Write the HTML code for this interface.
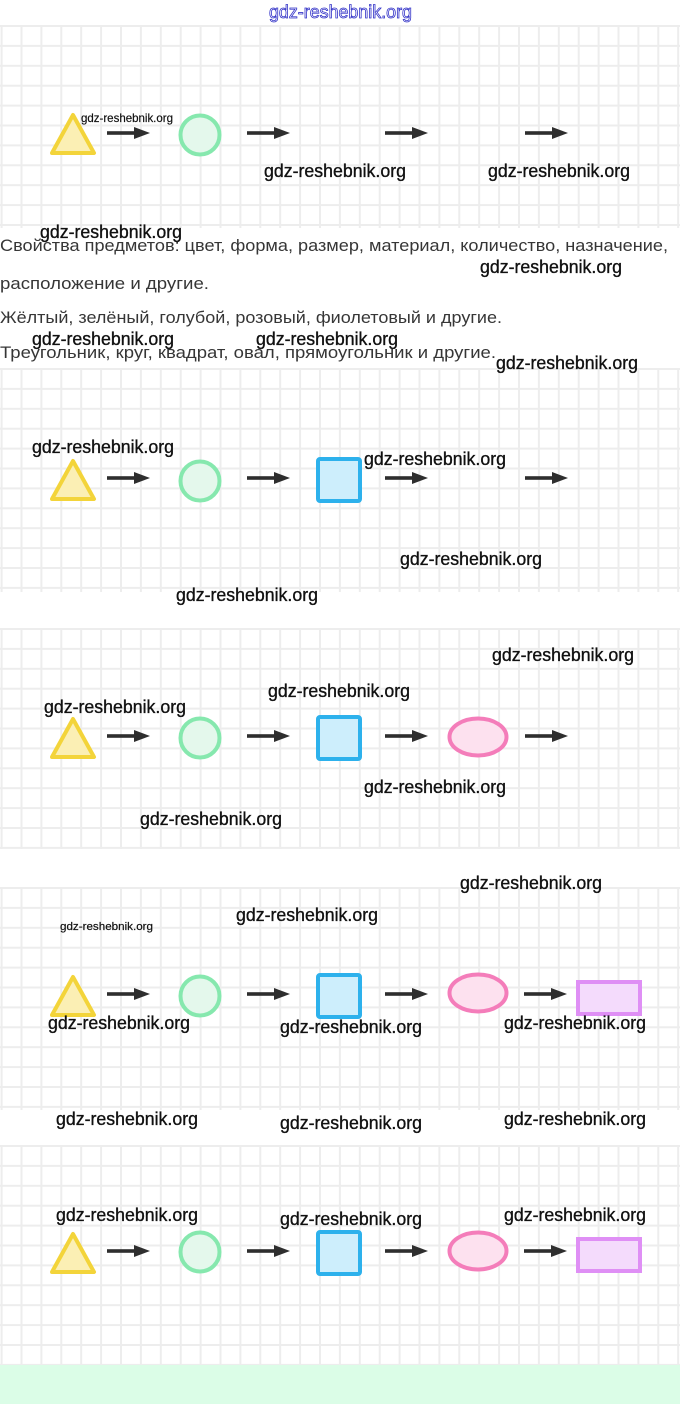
<!DOCTYPE html>
<html>
<head>
<meta charset="utf-8">
<style>
html,body{margin:0;padding:0;background:#fff;}
body{width:680px;height:1404px;overflow:hidden;}
svg{display:block;}
.wm{font-family:"Liberation Sans",Arial,sans-serif;font-size:18px;fill:#111;stroke:#111;stroke-width:0.35px;}
.tx{font-family:"Liberation Sans","Noto Sans CJK SC",sans-serif;font-size:16.5px;fill:#363636;}
</style>
</head>
<body>
<svg width="680" height="1404" viewBox="0 0 680 1404" xmlns="http://www.w3.org/2000/svg">
<defs>
  <pattern id="g1" patternUnits="userSpaceOnUse" x="0.6" y="25" width="19.9" height="19.9">
    <rect x="0" y="0" width="19.9" height="2" fill="#ededed"/>
    <rect x="0" y="0" width="2" height="19.9" fill="#ededed"/>
  </pattern>
  <pattern id="g2" patternUnits="userSpaceOnUse" x="0.6" y="368" width="19.9" height="19.9">
    <rect x="0" y="0" width="19.9" height="2" fill="#ededed"/>
    <rect x="0" y="0" width="2" height="19.9" fill="#ededed"/>
  </pattern>
  <pattern id="g3" patternUnits="userSpaceOnUse" x="0.6" y="628" width="19.9" height="19.9">
    <rect x="0" y="0" width="19.9" height="2" fill="#ededed"/>
    <rect x="0" y="0" width="2" height="19.9" fill="#ededed"/>
  </pattern>
  <pattern id="g4" patternUnits="userSpaceOnUse" x="0.6" y="887" width="19.9" height="19.9">
    <rect x="0" y="0" width="19.9" height="2" fill="#ededed"/>
    <rect x="0" y="0" width="2" height="19.9" fill="#ededed"/>
  </pattern>
  <pattern id="g5" patternUnits="userSpaceOnUse" x="0.6" y="1145" width="19.9" height="19.9">
    <rect x="0" y="0" width="19.9" height="2" fill="#ededed"/>
    <rect x="0" y="0" width="2" height="19.9" fill="#ededed"/>
  </pattern>
  <g id="arr">
    <rect x="0" y="-1.8" width="30" height="3.6" fill="#2e2e2e"/>
    <polygon points="27,-6 43,0 27,6" fill="#2e2e2e"/>
  </g>
  <g id="tri">
    <polygon points="23,-18 44,20 2,20" fill="#fbefb4" stroke="#f3d43a" stroke-width="4" stroke-linejoin="round"/>
  </g>
  <g id="cir">
    <circle cx="0" cy="0" r="19.5" fill="#e4f8ec" stroke="#86e8ae" stroke-width="4"/>
  </g>
  <g id="sq">
    <rect x="0" y="0" width="42" height="42" rx="2" fill="#cdeefc" stroke="#2db1ec" stroke-width="4"/>
  </g>
  <g id="ell">
    <ellipse cx="0" cy="0" rx="28.5" ry="18.5" fill="#fde1ef" stroke="#f47dba" stroke-width="4"/>
  </g>
  <g id="rct">
    <rect x="0" y="0" width="62" height="32" fill="#f4dbfc" stroke="#df8ff5" stroke-width="4"/>
  </g>
</defs>

<!-- panels -->
<rect x="0" y="25" width="680" height="203" fill="url(#g1)"/>
<rect x="0" y="368" width="680" height="224" fill="url(#g2)"/>
<rect x="0" y="628" width="680" height="221" fill="url(#g3)"/>
<rect x="0" y="887" width="680" height="223" fill="url(#g4)"/>
<rect x="0" y="1145" width="680" height="220" fill="url(#g5)"/>
<rect x="0" y="1365" width="680" height="39" fill="#dbfde7"/>

<!-- panel 1 -->
<use href="#tri" x="50" y="133"/>
<use href="#arr" x="107" y="133"/>
<use href="#cir" x="200" y="135"/>
<use href="#arr" x="247" y="133"/>
<use href="#arr" x="385" y="133"/>
<use href="#arr" x="525" y="133"/>

<!-- panel 2 -->
<use href="#tri" x="50" y="479"/>
<use href="#arr" x="107" y="478"/>
<use href="#cir" x="200" y="481"/>
<use href="#arr" x="247" y="478"/>
<use href="#sq" x="318" y="459"/>
<use href="#arr" x="385" y="478"/>
<use href="#arr" x="525" y="478"/>

<!-- panel 3 -->
<use href="#tri" x="50" y="737"/>
<use href="#arr" x="107" y="736"/>
<use href="#cir" x="200" y="738"/>
<use href="#arr" x="247" y="736"/>
<use href="#sq" x="318" y="717"/>
<use href="#arr" x="385" y="736"/>
<use href="#ell" x="478" y="737"/>
<use href="#arr" x="525" y="736"/>

<!-- panel 4 -->
<use href="#tri" x="50" y="995"/>
<use href="#arr" x="107" y="994"/>
<use href="#cir" x="200" y="996"/>
<use href="#arr" x="247" y="994"/>
<use href="#sq" x="318" y="975"/>
<use href="#arr" x="385" y="994"/>
<use href="#ell" x="478" y="993"/>
<use href="#arr" x="524" y="994"/>
<use href="#rct" x="578" y="982"/>

<!-- panel 5 -->
<use href="#tri" x="50" y="1252"/>
<use href="#arr" x="107" y="1251"/>
<use href="#cir" x="200" y="1252"/>
<use href="#arr" x="247" y="1251"/>
<use href="#sq" x="318" y="1232"/>
<use href="#arr" x="385" y="1251"/>
<use href="#ell" x="478" y="1251"/>
<use href="#arr" x="524" y="1251"/>
<use href="#rct" x="578" y="1239"/>

<!-- body text -->
<text class="tx" x="0" y="251" textLength="668" lengthAdjust="spacingAndGlyphs">Свойства предметов: цвет, форма, размер, материал, количество, назначение,</text>
<text class="tx" x="0" y="289" textLength="209" lengthAdjust="spacingAndGlyphs">расположение и другие.</text>
<text class="tx" x="0" y="323" textLength="502" lengthAdjust="spacingAndGlyphs">Жёлтый, зелёный, голубой, розовый, фиолетовый и другие.</text>
<text class="tx" x="0" y="358" textLength="496" lengthAdjust="spacingAndGlyphs">Треугольник, круг, квадрат, овал, прямоугольник и другие.</text>

<!-- top watermark -->
<text x="269" y="18" font-family="Liberation Sans, Arial, sans-serif" font-size="18" fill="#ffffff" stroke="#3434c8" stroke-width="0.8" textLength="143" lengthAdjust="spacingAndGlyphs">gdz-reshebnik.org</text>

<!-- watermarks -->
<text class="wm" x="81" y="122" style="font-size:12px;stroke-width:0.2px" textLength="92" lengthAdjust="spacingAndGlyphs">gdz-reshebnik.org</text>
<text class="wm" x="264" y="177" textLength="142" lengthAdjust="spacingAndGlyphs">gdz-reshebnik.org</text>
<text class="wm" x="488" y="177" textLength="142" lengthAdjust="spacingAndGlyphs">gdz-reshebnik.org</text>
<text class="wm" x="40" y="238" textLength="142" lengthAdjust="spacingAndGlyphs">gdz-reshebnik.org</text>
<text class="wm" x="480" y="273" textLength="142" lengthAdjust="spacingAndGlyphs">gdz-reshebnik.org</text>
<text class="wm" x="32" y="345" textLength="142" lengthAdjust="spacingAndGlyphs">gdz-reshebnik.org</text>
<text class="wm" x="256" y="345" textLength="142" lengthAdjust="spacingAndGlyphs">gdz-reshebnik.org</text>
<text class="wm" x="496" y="369" textLength="142" lengthAdjust="spacingAndGlyphs">gdz-reshebnik.org</text>
<text class="wm" x="32" y="453" textLength="142" lengthAdjust="spacingAndGlyphs">gdz-reshebnik.org</text>
<text class="wm" x="364" y="465" textLength="142" lengthAdjust="spacingAndGlyphs">gdz-reshebnik.org</text>
<text class="wm" x="400" y="565" textLength="142" lengthAdjust="spacingAndGlyphs">gdz-reshebnik.org</text>
<text class="wm" x="176" y="601" textLength="142" lengthAdjust="spacingAndGlyphs">gdz-reshebnik.org</text>
<text class="wm" x="492" y="661" textLength="142" lengthAdjust="spacingAndGlyphs">gdz-reshebnik.org</text>
<text class="wm" x="268" y="697" textLength="142" lengthAdjust="spacingAndGlyphs">gdz-reshebnik.org</text>
<text class="wm" x="44" y="713" textLength="142" lengthAdjust="spacingAndGlyphs">gdz-reshebnik.org</text>
<text class="wm" x="364" y="793" textLength="142" lengthAdjust="spacingAndGlyphs">gdz-reshebnik.org</text>
<text class="wm" x="140" y="825" textLength="142" lengthAdjust="spacingAndGlyphs">gdz-reshebnik.org</text>
<text class="wm" x="460" y="889" textLength="142" lengthAdjust="spacingAndGlyphs">gdz-reshebnik.org</text>
<text class="wm" x="236" y="921" textLength="142" lengthAdjust="spacingAndGlyphs">gdz-reshebnik.org</text>
<text class="wm" x="60" y="930" style="font-size:11px;stroke-width:0.2px" textLength="93" lengthAdjust="spacingAndGlyphs">gdz-reshebnik.org</text>
<text class="wm" x="48" y="1029" textLength="142" lengthAdjust="spacingAndGlyphs">gdz-reshebnik.org</text>
<text class="wm" x="280" y="1033" textLength="142" lengthAdjust="spacingAndGlyphs">gdz-reshebnik.org</text>
<text class="wm" x="504" y="1029" textLength="142" lengthAdjust="spacingAndGlyphs">gdz-reshebnik.org</text>
<text class="wm" x="56" y="1125" textLength="142" lengthAdjust="spacingAndGlyphs">gdz-reshebnik.org</text>
<text class="wm" x="280" y="1129" textLength="142" lengthAdjust="spacingAndGlyphs">gdz-reshebnik.org</text>
<text class="wm" x="504" y="1125" textLength="142" lengthAdjust="spacingAndGlyphs">gdz-reshebnik.org</text>
<text class="wm" x="56" y="1221" textLength="142" lengthAdjust="spacingAndGlyphs">gdz-reshebnik.org</text>
<text class="wm" x="280" y="1225" textLength="142" lengthAdjust="spacingAndGlyphs">gdz-reshebnik.org</text>
<text class="wm" x="504" y="1221" textLength="142" lengthAdjust="spacingAndGlyphs">gdz-reshebnik.org</text>
</svg>
</body>
</html>
